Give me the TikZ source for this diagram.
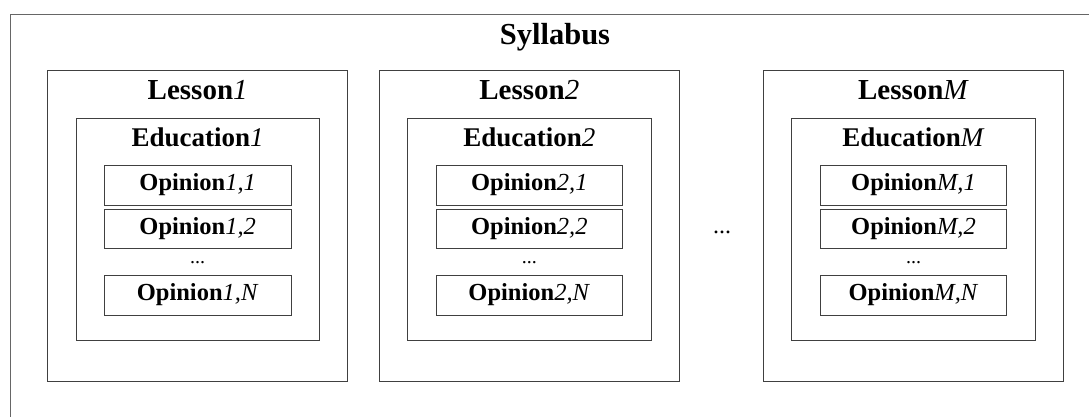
\documentclass[tikz,border=0pt]{standalone}
\usepackage{fontspec}
\setmainfont{Liberation Serif}
\begin{document}
\begin{tikzpicture}[x=1pt,y=-1pt,
  frame/.style={draw=black!75,line width=0.9pt},
  lessonbox/.style={frame,minimum width=300pt,minimum height=311pt,inner sep=0pt},
  edubox/.style={frame,minimum width=243.3pt,minimum height=222pt,inner sep=0pt},
  opbox/.style={frame,minimum width=186.7pt,minimum height=39.7pt,inner sep=0pt,
    font=\fontsize{24.5}{27}\selectfont\bfseries,text height=16pt,text depth=4.5pt},
  lessonlbl/.style={anchor=base,font=\fontsize{29}{32}\selectfont\bfseries},
  edulbl/.style={anchor=base,font=\fontsize{27}{30}\selectfont\bfseries},
  dotlbl/.style={anchor=base,font=\fontsize{20}{22}\selectfont}]
\newcommand{\iv}[1]{\textmd{\textit{#1}}}
\useasboundingbox (0,0) rectangle (1089,416);
\begin{scope}
\clip (0,0) rectangle (1089,416);
\node[draw=black!60,line width=0.9pt,minimum width=1100pt,minimum height=420pt,inner sep=0pt,anchor=north west] (syl) at (10,14) {};
\end{scope}
\node[lessonlbl,font=\fontsize{30.5}{33}\selectfont\bfseries] (sylt) at (555,44.3) {Syllabus};
\foreach \x/\k [count=\i] in {197.7/1, 529.3/2, 913.5/M}{
  \node[lessonbox] (L\i) at (\x,225.5) {};
  \node[lessonlbl] (Lt\i) at (\x,99) {Lesson\iv{\k}};
  \node[edubox] (E\i) at (\x,229.3) {};
  \node[edulbl] (Et\i) at (\x,146.7) {Education\iv{\k}};
  \node[opbox] (O\i a) at (\x,185.2) {Opinion\iv{\k,1}};
  \node[opbox] (O\i b) at (\x,228.9) {Opinion\iv{\k,2}};
  \node[dotlbl] (D\i) at (\x,263) {...};
  \node[opbox] (O\i n) at (\x,295.2) {Opinion\iv{\k,N}};
}
\node[dotlbl,font=\fontsize{24}{26}\selectfont] (Dmid) at (722,233) {...};
\end{tikzpicture}
\end{document}
